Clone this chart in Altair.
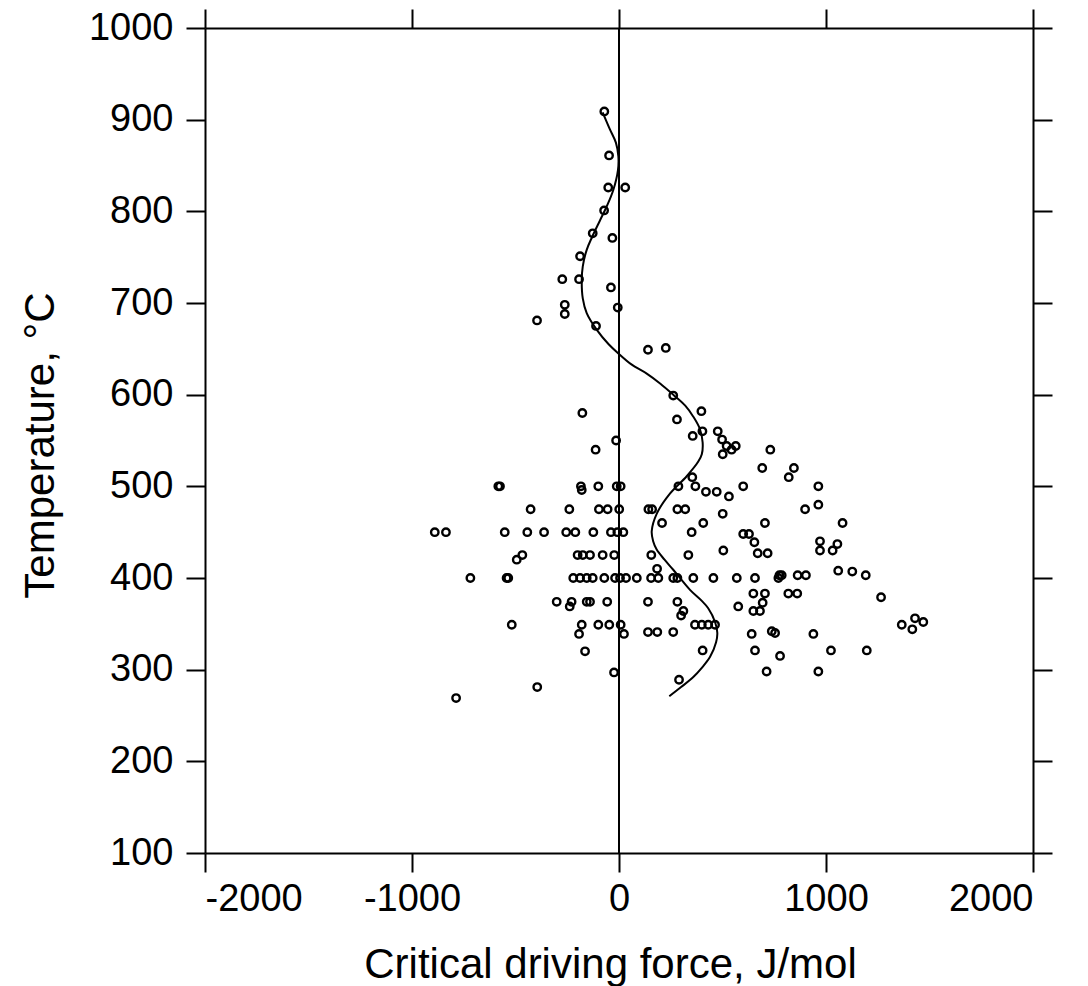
import altair as alt
import pandas as pd

# Observed critical driving force (J/mol) and temperature (°C)
force_pts = [
    -71, -48, -52, 30, -72, -127, -32, -188, -274, -193, -39, -262, -262, -6, -396, -111, 140, 226,
    262, 398, 280, -177, 403, 477, 356, 498, 520, 564, 544, 501, 731, -14, -113, 692, 845, 820, 354,
    -583, -575, -184, -180, -100, -11, 8, 287, 369, 600, 963, 420, 472, 531, 963,
    -427, -240, -97, -55, 1, 142, 160, 282, 320, 899, 501,
    208, 407, 705, 1080,
    -890, -836, -552, -443, -362, -255, -211, -124, -39, -8, 21, 351, 600, 628, 654, 971, 1055, 971, 1032, 504, 670, 718,
    -494, -467, -200, -175, -140, -79, -23, 156, 335, 184, 1059, 1127, 1192, 775, 786, 863, 903,
    -718, -543, -535, -221, -188, -156, -127, -71, -19, 5, 34, 86, 155, 190, 262, 282, 359, 456, 569, 657, 770,
    1266, 649, 705, 818, 861, -301, -229, -238, -156, -140, -57, 140, 282, 694, 576, 311, 300, 649, 681,
    -518, -180, -100, -47, 8, 367, 400, 431, 464, 1366, 1430, 1470, 1417,
    -193, 24, 140, 185, 262, 641, 738, 754, 939,
    404, 657, 1024, 1197, -164, 778, -24, 713, 963, 290, -395, -787,
]
temp_pts = [
    909, 861, 826, 826, 801, 776, 771, 751, 726, 726, 717, 698, 688, 695, 681, 675, 649, 651,
    599, 582, 573, 580, 560, 560, 555, 551, 544, 544, 540, 535, 540, 550, 540, 520, 520, 510, 510,
    500, 500, 500, 496, 500, 500, 500, 500, 500, 500, 500, 494, 494, 489, 480,
    475, 475, 475, 475, 475, 475, 475, 475, 475, 475, 470,
    460, 460, 460, 460,
    450, 450, 450, 450, 450, 450, 450, 450, 450, 450, 450, 450, 448, 448, 439, 440, 437, 430, 430, 430, 427, 427,
    420, 425, 425, 425, 425, 425, 425, 425, 425, 410, 408, 407, 403, 403, 403, 403, 403,
    400, 400, 400, 400, 400, 400, 400, 400, 400, 400, 400, 400, 400, 400, 400, 400, 400, 400, 400, 400, 400,
    379, 383, 383, 383, 383, 374, 374, 369, 374, 374, 374, 374, 374, 373, 369, 364, 359, 364, 364,
    349, 349, 349, 349, 349, 349, 349, 349, 349, 349, 356, 352, 344,
    339, 339, 341, 341, 341, 339, 342, 340, 339,
    321, 321, 321, 321, 320, 315, 297, 298, 298, 289, 281, 269,
]

# Fitted curve
curve_force = [-79, -45, -15, -3, -5, -28, -60, -92, -130, -156, -175, -180, -175, -156, -108, -50, -3,
               60, 134, 200, 262, 320, 359, 390, 404, 400, 383, 327, 246, 182, 158, 165, 182, 220, 262,
               343, 400, 431, 464, 475, 469, 440, 400, 359, 300, 243]
curve_temp = [908, 890, 875, 860, 845, 823, 805, 790, 772, 758, 740, 725, 705, 689, 671, 655, 645,
              633, 623, 612, 600, 588, 576, 563, 548, 535, 527, 511, 492, 470, 451, 440, 431, 420, 409,
              387, 375, 367, 352, 340, 330, 314, 302, 292, 281, 271]

x_ticks = [-2000, -1000, 0, 1000, 2000]
y_ticks = [100, 200, 300, 400, 500, 600, 700, 800, 900, 1000]

pts = pd.DataFrame({"force": force_pts, "temp": temp_pts})
curve = pd.DataFrame({"force": curve_force, "temp": curve_temp, "i": list(range(len(curve_force)))})
zero = pd.DataFrame({"force": [0]})

xs = alt.Scale(domain=[-2000, 2000], nice=False, zero=False)
ys = alt.Scale(domain=[100, 1000], nice=False, zero=False)

FONT = "Liberation Sans"
common_axis = dict(domainColor="black", domainWidth=2, tickColor="black", tickWidth=2,
                   tickSize=19, grid=False, labelFont=FONT, titleFont=FONT,
                   labelColor="black", titleColor="black")

points = alt.Chart(pts).mark_point(shape="circle", filled=False, color="black",
                                   size=55, strokeWidth=2.4, opacity=1).encode(
    x=alt.X("force:Q", scale=xs,
            axis=alt.Axis(orient="bottom", values=x_ticks, title="Critical driving force, J/mol",
                          labelFontSize=38, titleFontSize=42, labelPadding=8,
                          labelExpr="toString(datum.value)",
                          titleFontWeight="normal", titleBaseline="alphabetic",
                          titleX=405, titleY=124, **common_axis)),
    y=alt.Y("temp:Q", scale=ys,
            axis=alt.Axis(orient="left", values=y_ticks, title="Temperature, °C",
                          labelFontSize=38, titleFontSize=42, labelPadding=13,
                          labelExpr="toString(datum.value)",
                          titleFontWeight="normal", titleBaseline="alphabetic",
                          titleX=-152, titleY=417, **common_axis)),
)

line = alt.Chart(curve).mark_line(color="black", strokeWidth=2,
                                  interpolate="catmull-rom").encode(
    x=alt.X("force:Q", scale=xs,
            axis=alt.Axis(orient="top", values=x_ticks, labels=False, title=None, **common_axis)),
    y=alt.Y("temp:Q", scale=ys,
            axis=alt.Axis(orient="right", values=y_ticks, labels=False, title=None, **common_axis)),
    order="i:Q",
)

rule = alt.Chart(zero).mark_rule(color="black", strokeWidth=2).encode(
    x=alt.X("force:Q", scale=xs, axis=None),
)

chart = alt.layer(rule, line, points).resolve_axis(x="independent", y="independent").properties(
    width=828, height=825,
    autosize=alt.AutoSizeParams(type="none"),
    padding={"left": 205, "top": 28, "right": 55, "bottom": 133},
    background="white",
).configure_view(strokeWidth=0)

chart.save("out.html", embed_options={"renderer": "svg", "actions": False})
